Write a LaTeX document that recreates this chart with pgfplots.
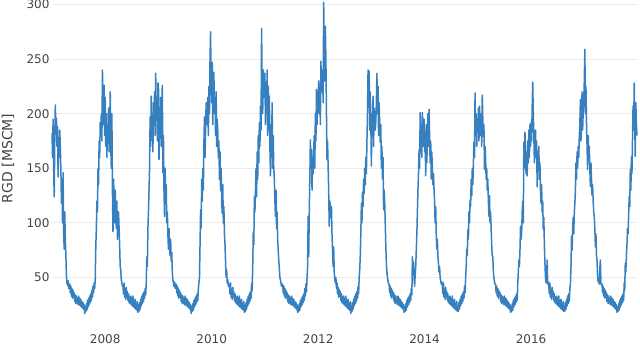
\documentclass[border=0pt]{standalone}
\usepackage{fontspec}
\setmainfont{DejaVu Sans}
\usepackage{pgfplots}
\usepackage{pgfplotstable}
\pgfplotsset{compat=1.18}
\usetikzlibrary{calc}
\definecolor{linec}{RGB}{55,128,191}
\definecolor{gridc}{RGB}{236,236,236}
\definecolor{txtc}{RGB}{68,68,68}
\pgfplotstableread[row sep=\\, header=false]{
182\\160\\195\\150\\124\\176\\208\\185\\
196\\170\\188\\142\\178\\160\\185\\170\\
150\\118\\140\\100\\146\\92\\76\\110\\
85\\72\\52\\45\\43\\47\\40\\42\\
44\\36\\42\\33\\40\\31\\38\\34\\
36\\28\\34\\26\\33\\27\\31\\25\\
33\\25\\31\\24\\30\\23\\28\\22\\
27\\21\\25\\17\\23\\19\\26\\20\\
29\\23\\31\\25\\33\\27\\35\\29\\
38\\32\\42\\36\\45\\40\\48\\78\\
95\\120\\110\\150\\135\\175\\160\\192\\
185\\200\\175\\240\\210\\190\\226\\180\\
215\\170\\200\\160\\190\\175\\205\\165\\
185\\220\\170\\150\\200\\130\\92\\140\\
125\\100\\130\\110\\95\\120\\85\\105\\
110\\95\\80\\60\\57\\48\\45\\42\\
42\\35\\45\\32\\39\\30\\41\\33\\
37\\29\\35\\27\\32\\26\\33\\25\\
31\\24\\33\\23\\29\\22\\30\\21\\
26\\20\\28\\18\\24\\19\\27\\21\\
30\\24\\33\\26\\35\\28\\37\\31\\
40\\34\\45\\69\\60\\95\\110\\130\\
150\\197\\170\\216\\180\\200\\165\\210\\
190\\220\\180\\237\\200\\215\\175\\228\\
228\\158\\200\\185\\215\\170\\205\\226\\
146\\180\\130\\106\\150\\120\\135\\100\\
110\\90\\76\\95\\80\\70\\85\\65\\
73\\55\\48\\45\\42\\46\\40\\43\\
44\\36\\42\\33\\40\\31\\38\\34\\
36\\28\\34\\26\\33\\27\\31\\25\\
33\\25\\31\\24\\30\\23\\28\\22\\
27\\21\\25\\17\\23\\19\\26\\20\\
29\\23\\31\\25\\33\\27\\35\\29\\
40\\45\\50\\80\\112\\95\\140\\120\\
150\\130\\174\\197\\160\\185\\210\\190\\
190\\215\\180\\225\\200\\250\\275\\230\\
210\\247\\190\\225\\238\\200\\215\\180\\
220\\170\\195\\185\\160\\175\\140\\165\\
130\\150\\120\\109\\135\\100\\115\\90\\
80\\65\\50\\57\\45\\48\\42\\44\\
42\\35\\45\\32\\39\\30\\41\\33\\
37\\29\\35\\27\\32\\26\\33\\25\\
31\\24\\33\\23\\29\\22\\30\\21\\
26\\20\\28\\18\\24\\19\\27\\21\\
30\\24\\33\\26\\35\\28\\37\\31\\
45\\38\\60\\91\\80\\124\\110\\130\\
150\\124\\165\\140\\180\\155\\192\\170\\
207\\185\\278\\228\\200\\240\\215\\237\\
237\\190\\220\\200\\240\\180\\225\\210\\
216\\170\\143\\190\\160\\210\\150\\180\\
150\\140\\120\\106\\130\\95\\110\\85\\
75\\66\\58\\50\\48\\45\\42\\44\\
44\\36\\42\\33\\40\\31\\38\\34\\
36\\28\\34\\26\\33\\27\\31\\25\\
33\\25\\31\\24\\30\\23\\28\\22\\
27\\21\\25\\18\\23\\19\\26\\20\\
29\\23\\31\\25\\33\\27\\35\\29\\
40\\33\\44\\37\\50\\60\\106\\69\\
110\\140\\176\\150\\167\\130\\160\\145\\
167\\180\\150\\200\\175\\222\\190\\210\\
215\\230\\200\\225\\190\\248\\220\\235\\
240\\210\\302\\260\\230\\280\\250\\200\\
158\\175\\152\\130\\97\\120\\115\\105\\
115\\90\\75\\60\\78\\55\\48\\45\\
50\\40\\45\\35\\41\\32\\39\\33\\
37\\29\\35\\27\\32\\26\\33\\25\\
31\\24\\33\\23\\29\\22\\30\\21\\
26\\20\\28\\17\\24\\19\\27\\21\\
30\\24\\33\\26\\35\\28\\37\\31\\
42\\35\\50\\57\\70\\90\\118\\100\\
128\\115\\140\\127\\150\\135\\160\\145\\
175\\200\\240\\210\\239\\185\\220\\195\\
152\\200\\180\\216\\170\\205\\192\\185\\
192\\210\\237\\200\\225\\180\\210\\190\\
174\\190\\150\\170\\140\\160\\112\\130\\
120\\100\\80\\63\\55\\50\\47\\44\\
44\\36\\42\\33\\40\\31\\38\\34\\
36\\28\\34\\26\\33\\27\\31\\25\\
33\\25\\31\\24\\30\\23\\28\\22\\
27\\21\\25\\18\\23\\19\\26\\20\\
29\\23\\31\\25\\33\\27\\35\\29\\
40\\34\\69\\55\\64\\50\\42\\52\\
60\\75\\90\\110\\130\\145\\167\\150\\
201\\175\\190\\160\\201\\185\\170\\195\\
165\\180\\143\\190\\155\\175\\200\\170\\
204\\180\\155\\175\\140\\165\\150\\135\\
145\\130\\120\\100\\115\\90\\76\\85\\
70\\63\\55\\60\\50\\47\\44\\46\\
42\\35\\45\\32\\39\\30\\41\\33\\
37\\29\\35\\27\\32\\26\\33\\25\\
31\\24\\33\\23\\29\\22\\30\\21\\
26\\20\\28\\19\\24\\19\\27\\21\\
30\\24\\33\\26\\35\\28\\37\\31\\
42\\36\\50\\60\\76\\70\\94\\85\\
110\\100\\121\\115\\140\\125\\150\\135\\
155\\174\\160\\219\\180\\200\\170\\195\\
185\\205\\175\\207\\190\\180\\200\\170\\
217\\195\\179\\190\\149\\170\\160\\140\\
150\\130\\140\\120\\106\\125\\100\\110\\
95\\80\\70\\69\\55\\50\\46\\44\\
44\\36\\42\\33\\40\\31\\38\\34\\
36\\28\\34\\26\\33\\27\\31\\25\\
33\\25\\31\\24\\30\\23\\28\\22\\
27\\21\\25\\18\\23\\19\\26\\20\\
29\\23\\31\\25\\33\\27\\35\\29\\
44\\55\\66\\60\\75\\97\\85\\90\\
110\\120\\100\\174\\150\\183\\160\\145\\
165\\143\\175\\155\\185\\160\\190\\170\\
192\\175\\205\\229\\200\\180\\155\\170\\
185\\160\\175\\133\\165\\150\\170\\140\\
155\\130\\118\\135\\110\\120\\94\\105\\
80\\63\\50\\45\\48\\66\\44\\46\\
42\\35\\45\\32\\39\\30\\41\\33\\
37\\29\\35\\27\\32\\26\\33\\25\\
31\\24\\33\\23\\29\\22\\30\\21\\
26\\20\\28\\19\\24\\19\\27\\21\\
30\\24\\33\\26\\35\\28\\40\\44\\
60\\88\\75\\95\\105\\90\\110\\118\\
130\\155\\140\\165\\150\\170\\160\\179\\
190\\213\\175\\200\\220\\185\\201\\210\\
230\\259\\200\\225\\190\\170\\149\\180\\
165\\170\\150\\133\\155\\140\\125\\135\\
120\\110\\106\\95\\78\\90\\70\\65\\
50\\46\\48\\44\\58\\66\\45\\43\\
44\\36\\42\\33\\40\\31\\38\\34\\
36\\28\\34\\26\\33\\27\\31\\25\\
33\\25\\31\\24\\30\\23\\28\\22\\
27\\21\\25\\18\\23\\19\\26\\20\\
29\\23\\31\\25\\33\\27\\35\\29\\
45\\38\\63\\55\\70\\80\\95\\90\\
105\\124\\115\\149\\130\\160\\145\\175\\
207\\185\\228\\195\\161\\210\\190\\180\\
}\rgd
\begin{document}
\begin{tikzpicture}
\begin{axis}[
  name=ax,
  scale only axis,
  width=585pt, height=312.3pt,
  xmin=2007, xmax=2017.99,
  ymin=16, ymax=302,
  axis line style={draw=none},
  major tick length=0pt,
  xtick={2008,2010,2012,2014,2016},
  xticklabels={2008,2010,2012,2014,2016},
  ytick={50,100,150,200,250,300},
  ymajorgrids,
  grid style={gridc, line width=1pt},
  /pgf/number format/assume math mode=true,
  tick label style={font=\fontsize{12}{14}\selectfont, text=txtc},
  xticklabel style={yshift=-16pt},
  yticklabel style={xshift=1pt},
  ylabel={RGD [MSCM]},
  ylabel style={at={(axis description cs:-0.0752,0.5)}, anchor=center, font=\fontsize{14}{16}\selectfont, text=txtc},
  clip=false,
]
\addplot[linec, line width=1.5pt, line join=round] table[x expr={2007+\coordindex/96}, y index=0] {\rgd};
\end{axis}
\pgfresetboundingbox
\path ($(ax.south west)+(-52pt,-31.4pt)$) rectangle ($(ax.north east)+(3pt,2.3pt)$);
\end{tikzpicture}
\end{document}
